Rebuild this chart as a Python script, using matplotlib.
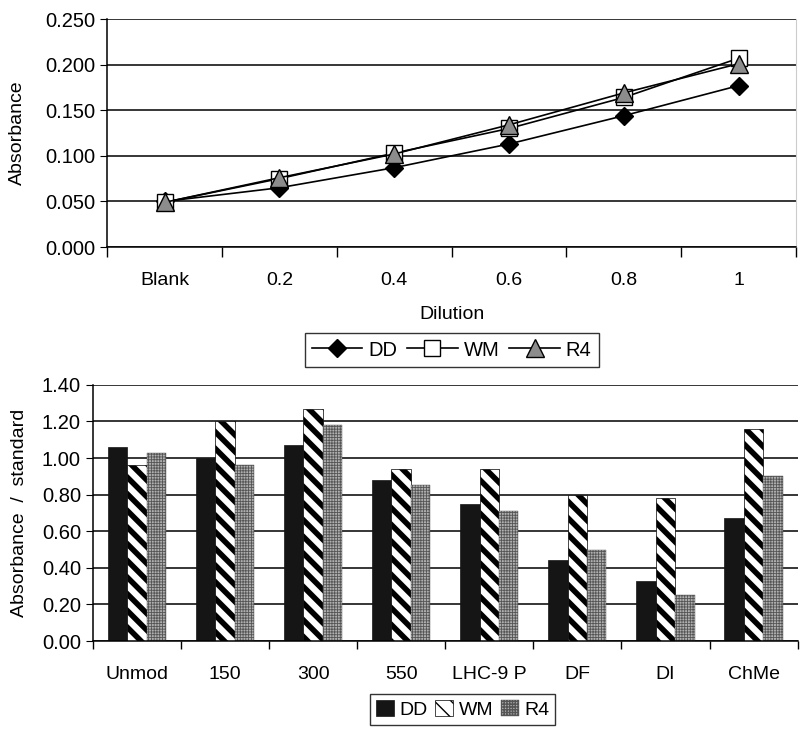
import numpy as np
import matplotlib
matplotlib.use('Agg')
import matplotlib.pyplot as plt
from matplotlib.ticker import FixedLocator, FormatStrFormatter

plt.rcParams['font.family'] = ['Liberation Sans Narrow', 'Liberation Sans', 'DejaVu Sans']

# top panel: absorbance vs dilution
dilutions = ['Blank', '0.2', '0.4', '0.6', '0.8', '1']
dd_abs = [0.050, 0.065, 0.087, 0.113, 0.144, 0.177]
wm_abs = [0.049, 0.075, 0.103, 0.130, 0.164, 0.207]
r4_abs = [0.049, 0.076, 0.102, 0.134, 0.169, 0.201]

# bottom panel: absorbance / standard per resin
resins = ['Unmod', '150', '300', '550', 'LHC-9 P', 'DF', 'DI', 'ChMe']
dd_ratio = [1.06, 1.00, 1.07, 0.88, 0.75, 0.44, 0.33, 0.67]
wm_ratio = [0.96, 1.20, 1.27, 0.94, 0.94, 0.80, 0.78, 1.16]
r4_ratio = [1.03, 0.96, 1.18, 0.85, 0.71, 0.50, 0.25, 0.90]

fig = plt.figure(figsize=(8, 7.33), dpi=100)

# ---- top line chart ----
ax1 = fig.add_axes([0.134, 0.663, 0.861, 0.311])
x = np.arange(len(dilutions))
ax1.plot(x, dd_abs, color='black', lw=1.2, marker='D', ms=9, mfc='black', mec='black', label='DD', zorder=3)
ax1.plot(x, wm_abs, color='black', lw=1.2, marker='s', ms=12, mfc='white', mec='black', label='WM', zorder=3)
ax1.plot(x, r4_abs, color='black', lw=1.2, marker='^', ms=13, mfc='#8c8c8c', mec='black', label='R4', zorder=4)
ax1.set_xlim(-0.5, len(dilutions) - 0.5)
ax1.set_ylim(0, 0.25)
ax1.set_yticks(np.arange(0, 0.2501, 0.05))
ax1.yaxis.set_major_formatter(FormatStrFormatter('%.3f'))
ax1.set_xticks(x)
ax1.set_xticklabels(dilutions)
ax1.xaxis.set_minor_locator(FixedLocator(np.arange(-0.5, len(dilutions), 1.0)))
ax1.tick_params(axis='x', which='major', length=0, pad=18, labelsize=14)
ax1.tick_params(axis='x', which='minor', length=7, width=1)
ax1.tick_params(axis='y', length=5, labelsize=14.5)
ax1.grid(axis='y', color='black', lw=1.1)
ax1.set_axisbelow(True)
ax1.spines['top'].set_visible(False)
ax1.spines['right'].set_color('#cccccc')
ax1.spines['left'].set_linewidth(1.1)
ax1.spines['bottom'].set_linewidth(1.1)
ax1.set_ylabel('Absorbance', fontsize=14, labelpad=14)
ax1.set_xlabel('Dilution', fontsize=14, labelpad=12)
ax1.legend(loc='upper center', bbox_to_anchor=(0.5, -0.335), ncol=3, frameon=True,
           fancybox=False, edgecolor='black', fontsize=14.5, handlelength=2.5,
           handletextpad=0.3, columnspacing=0.5, borderpad=0.35)

# ---- bottom bar chart ----
ax2 = fig.add_axes([0.116, 0.1255, 0.881, 0.3495])
xb = np.arange(len(resins))
w = 0.22
ax2.bar(xb - w, dd_ratio, w, color='#151515', edgecolor='#151515', lw=0.5, label='DD')
with plt.rc_context({'hatch.linewidth': 4.0}):
    ax2.bar(xb, wm_ratio, w, color='white', edgecolor='black', hatch='\\\\', lw=0.5, label='WM')
with plt.rc_context({'hatch.linewidth': 0.6}):
    ax2.bar(xb + w, r4_ratio, w, color='#b0b0b0', edgecolor='#555555', hatch='++++++', lw=0.3, label='R4')
ax2.set_xlim(-0.5, len(resins) - 0.5)
ax2.set_ylim(0, 1.4)
ax2.set_yticks(np.arange(0, 1.401, 0.2))
ax2.yaxis.set_major_formatter(FormatStrFormatter('%.2f'))
ax2.set_xticks(xb)
ax2.set_xticklabels(resins)
ax2.xaxis.set_minor_locator(FixedLocator(np.arange(-0.5, len(resins), 1.0)))
ax2.tick_params(axis='x', which='major', length=0, pad=18, labelsize=14)
ax2.tick_params(axis='x', which='minor', length=6, width=1)
ax2.tick_params(axis='y', length=5, labelsize=14.5)
ax2.grid(axis='y', color='black', lw=1.1)
ax2.set_axisbelow(True)
ax2.spines['top'].set_visible(False)
ax2.spines['right'].set_visible(False)
ax2.spines['left'].set_linewidth(1.1)
ax2.spines['bottom'].set_linewidth(1.1)
ax2.set_ylabel('Absorbance  /  standard', fontsize=14, labelpad=10)
ax2.legend(loc='upper center', bbox_to_anchor=(0.525, -0.17), ncol=3, frameon=True,
           fancybox=False, edgecolor='black', fontsize=14, handlelength=0.9,
           handleheight=0.9, handletextpad=0.3, columnspacing=0.4, borderpad=0.3)

fig.savefig('out.png', dpi=100)
